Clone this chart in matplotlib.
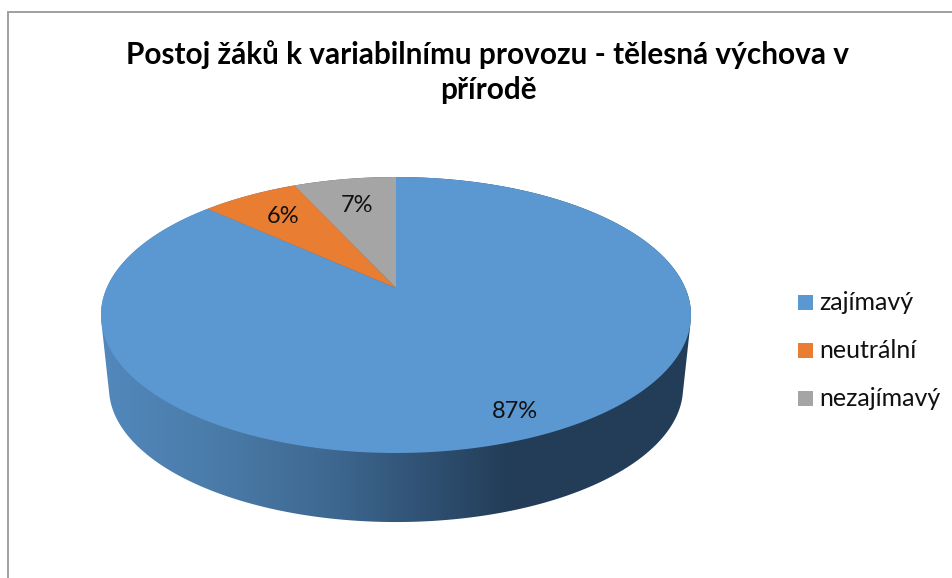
import numpy as np
import matplotlib
matplotlib.use("Agg")
import matplotlib.pyplot as plt
from matplotlib.patches import Polygon, Rectangle
from matplotlib.colors import LinearSegmentedColormap

title = "Postoj žáků k variabilnímu provozu - tělesná výchova v\npřírodě"
categories = ["zajímavý", "neutrální", "nezajímavý"]
values = [86.8, 6.4, 6.8]
colors = ["#5B98D2", "#E97D31", "#A5A5A5"]
FONT = "Lato"

W, H = 952, 578
CX, Y0, A, B, K = 396, 288, 132.7, 289.3, 0.1957
S, Y0B = 0.973, 361.5

def project(theta, r=1.0, s=1.0, y0=Y0):
    """theta clockwise from 12 o'clock, r radius; perspective view of a disc."""
    u, v = r*np.sin(theta), r*np.cos(theta)
    d = 1 + K*v
    return CX + s*B*u/d, y0 - s*A*v/d

def hull(pts):
    pts = sorted(set(map(tuple, pts)))
    def half(seq):
        out = []
        for p in seq:
            while len(out) > 1 and ((out[-1][0]-out[-2][0])*(p[1]-out[-2][1]) -
                                    (out[-1][1]-out[-2][1])*(p[0]-out[-2][0])) <= 0:
                out.pop()
            out.append(p)
        return out[:-1]
    return half(pts) + half(pts[::-1])

fig = plt.figure(figsize=(W/100, H/100), dpi=100)
ax = fig.add_axes([0, 0, 1, 1])
ax.set_xlim(0, W); ax.set_ylim(H, 0); ax.axis("off")

# chart frame
ax.plot([7.5, 7.5, W], [H, 11.5, 11.5], color="#A0A0A0", lw=1.4, zorder=1, solid_joinstyle="miter")

# side wall with gradient
th = np.linspace(0, 2*np.pi, 721)
top = np.column_stack(project(th))
bot = np.column_stack(project(th, s=S, y0=Y0B))
side = Polygon(hull(np.vstack([top, bot])), closed=True, transform=ax.transData, fc="none", ec="none")
ax.add_patch(side)
cmap = LinearSegmentedColormap.from_list("side", [(0, "#5288BC"), (0.2, "#4A7BA8"), (0.4, "#3D678F"),
                                                 (0.69, "#233D58"), (1, "#233D58")])
grad = np.linspace(0, 1, 600)[None, :]
im = ax.imshow(grad, cmap=cmap, extent=[101, 691, H, 0], aspect="auto", zorder=2)
im.set_clip_path(side)
ax.set_xlim(0, W); ax.set_ylim(H, 0)

# top slices, clockwise from 12 o'clock
fr = np.cumsum([0] + values) / sum(values)
for i, (v, c) in enumerate(zip(values, colors)):
    a0, a1 = 2*np.pi*fr[i], 2*np.pi*fr[i+1]
    t = np.linspace(a0, a1, 400)
    xs, ys = project(t)
    ax.add_patch(Polygon(np.column_stack([np.r_[CX, xs], np.r_[Y0, ys]]), closed=True,
                         fc=c, ec="none", zorder=3))
    lr = [0.86, 0.74, 0.72][i]
    lx, ly = project((a0+a1)/2, r=lr)
    ax.text(lx, ly, f"{v:.0f}%", ha="center", va="center", fontsize=17, color="#111111",
            family=FONT, zorder=4)

# title
ax.text(488, 72, title, ha="center", va="center", fontsize=21.4, fontweight="bold",
        color="#000000", family=FONT, linespacing=1.3, zorder=4)

# legend
for c, name, y in zip(colors, categories, [302, 350, 398]):
    ax.add_patch(Rectangle((798, y-7.5), 15, 15, fc=c, ec="none", zorder=4))
    ax.text(819, y, name, ha="left", va="center", fontsize=18, color="#111111", family=FONT, zorder=4)

fig.savefig("out.png", dpi=100)
